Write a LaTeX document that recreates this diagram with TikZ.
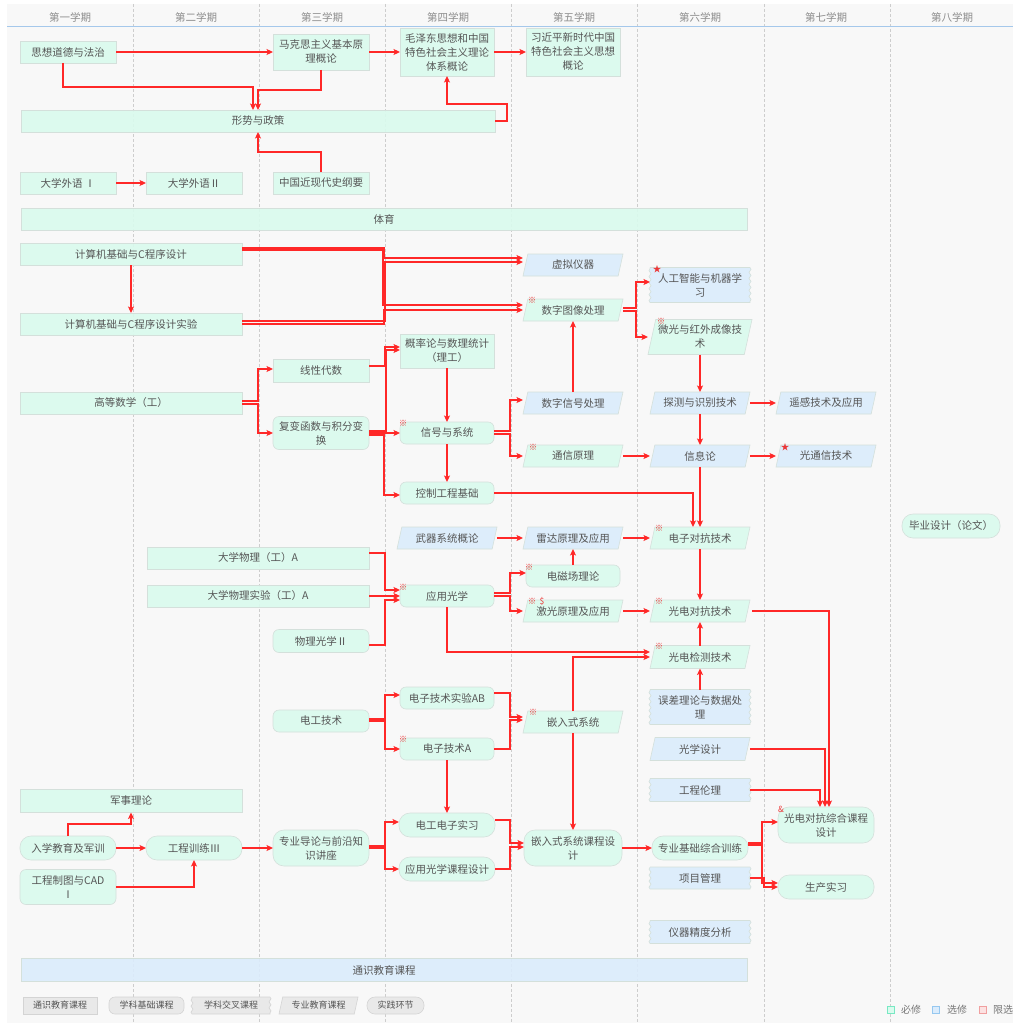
\documentclass[tikz,border=0pt]{standalone}
\usepackage{fontspec}
\setmainfont{Noto Sans CJK SC}
\usetikzlibrary{arrows.meta,calc,decorations.pathmorphing}
\definecolor{bgc}{RGB}{248,248,248}
\definecolor{gf}{RGB}{218,251,238}
\definecolor{bf}{RGB}{219,236,252}
\definecolor{bd}{RGB}{212,224,219}
\definecolor{tx}{RGB}{85,85,85}
\definecolor{hd}{RGB}{140,140,140}
\definecolor{ered}{RGB}{255,40,40}
\definecolor{grd}{RGB}{205,205,205}
\definecolor{hline}{RGB}{165,200,235}
\definecolor{lgf}{RGB}{232,232,232}
\definecolor{lgb}{RGB}{212,212,212}
\definecolor{mkc}{RGB}{235,55,55}
\pgfdeclarelayer{bgl}\pgfdeclarelayer{shp}\pgfsetlayers{bgl,shp,main}
\tikzset{
  box/.style 2 args={rectangle, draw=none, fill=none, inner sep=0pt, outer sep=0pt,
    minimum width=#1pt, minimum height=#2pt, align=center, text=tx,
    font=\fontsize{10.5}{14}\selectfont},
  lbox/.style 2 args={box={#1}{#2}, font=\fontsize{9}{11}\selectfont},
  hdr/.style={inner sep=0pt, text=hd, font=\fontsize{10.5}{12}\selectfont},
  ltx/.style={inner sep=0pt, text=tx!80, font=\fontsize{10}{12}\selectfont},
  mk/.style={inner sep=0pt, outer sep=0pt, text=mkc, font=\fontsize{8.5}{8.5}\selectfont},
  sq/.style={rectangle, inner sep=0pt, minimum size=7pt, line width=0.8pt},
  sh/.style={draw=bd, line width=0.6pt, fill opacity=0.9},
  e/.style={draw=ered, line width=1.8pt, -{Stealth[length=6.5pt,width=6pt,inset=1.5pt]}},
  wave/.style={decoration={snake, amplitude=1pt, segment length=6pt}}
}
\begin{document}
\begin{tikzpicture}[x=1pt,y=-1pt]
\useasboundingbox (0,0) rectangle (1013,1025);
\begin{pgfonlayer}{bgl}
\fill[white] (0,0) rectangle (1013,1025);
\fill[bgc] (7,4) rectangle (1013,1023);
\foreach \gx in {133,259,385,511,637,764,890}
  \draw[grd, line width=0.7pt, dash pattern=on 3pt off 2pt] (\gx,4) -- (\gx,1023);
\draw[hline, line width=1pt] (7,27) -- (1013,27);
\end{pgfonlayer}

% headers
\node[hdr] (h1) at (70,17) {第一学期};
\node[hdr] (h2) at (196,17) {第二学期};
\node[hdr] (h3) at (322,17) {第三学期};
\node[hdr] (h4) at (448,17) {第四学期};
\node[hdr] (h5) at (574,17) {第五学期};
\node[hdr] (h6) at (700,17) {第六学期};
\node[hdr] (h7) at (826,17) {第七学期};
\node[hdr] (h8) at (952,17) {第八学期};

% top
\node[box={96}{22}] (sxdd) at (68,52) {思想道德与法治};
\node[box={96}{36}] (mks) at (321,52) {马克思主义基本原\\理概论};
\node[box={94}{48}] (mzd) at (447,52) {毛泽东思想和中国\\特色社会主义理论\\体系概论};
\node[box={94}{48}] (xjp) at (573,52) {习近平新时代中国\\特色社会主义思想\\概论};
\node[box={474}{22}] (xszc) at (258,121) {形势与政策};
\node[box={96}{22}] (wy1) at (68,183) {大学外语 Ⅰ};
\node[box={96}{22}] (wy2) at (194,183) {大学外语Ⅱ};
\node[box={96}{22}] (zgjxd) at (321,183) {中国近现代史纲要};
\node[box={726}{22}] (ty) at (384,219) {体育};

% middle
\node[box={222}{22}] (jsj) at (131,254) {计算机基础与C程序设计};
\node[box={222}{22}] (jsjsy) at (131,324) {计算机基础与C程序设计实验};
\node[box={222}{22}] (gdsx) at (131,403) {高等数学（工）};
\node[box={96}{23}] (xxds) at (321,371) {线性代数};
\node[box={96}{33}] (fb) at (321,433) {复变函数与积分变\\换};
\node[box={94}{34}] (gll) at (447,351) {概率论与数理统计\\（理工）};
\node[box={94}{22}] (xhxt) at (447,433) {信号与系统};
\node[box={94}{22}] (kzgc) at (447,493) {控制工程基础};
\node[box={100}{22}] (xnyq) at (573,265) {虚拟仪器};
\node[box={100}{22}] (szdx) at (573,310) {数字图像处理};
\node[box={100}{35}] (rgzn) at (700,285) {人工智能与机器学\\习};
\node[box={104}{35}] (wg) at (700,337) {微光与红外成像技\\术};
\node[box={100}{22}] (szxh) at (573,403) {数字信号处理};
\node[box={100}{22}] (txyl) at (573,456) {通信原理};
\node[box={100}{22}] (tc) at (700,403) {探测与识别技术};
\node[box={100}{22}] (xxl) at (700,456) {信息论};
\node[box={100}{22}] (yg) at (826,403) {遥感技术及应用};
\node[box={100}{22}] (gtx) at (826,456) {光通信技术};

% lower
\node[box={100}{22}] (wqxt) at (447,538) {武器系统概论};
\node[box={100}{22}] (ldyl) at (573,538) {雷达原理及应用};
\node[box={94}{22}] (dcc) at (573,576) {电磁场理论};
\node[box={100}{22}] (jgyl) at (573,611) {激光原理及应用};
\node[box={100}{22}] (dzdk) at (700,538) {电子对抗技术};
\node[box={100}{22}] (gddk) at (700,611) {光电对抗技术};
\node[box={100}{23}] (gdjc) at (700,657) {光电检测技术};
\node[box={100}{35}] (wclr) at (700,707) {误差理论与数据处\\理};
\node[box={100}{23}] (gxsj) at (700,749) {光学设计};
\node[box={98}{24}] (bysj) at (951,526) {毕业设计（论文）};
\node[box={222}{22}] (dxwl) at (258,558) {大学物理（工）A};
\node[box={222}{22}] (dxwlsy) at (258,596) {大学物理实验（工）A};
\node[box={96}{23}] (wlgx) at (321,641) {物理光学Ⅱ};
\node[box={94}{22}] (yygx) at (447,596) {应用光学};
\node[box={96}{22}] (dgjs) at (321,721) {电工技术};
\node[box={94}{22}] (dzsy) at (447,698) {电子技术实验AB};
\node[box={94}{22}] (dzjs) at (447,749) {电子技术A};
\node[box={100}{22}] (qrs) at (573,722) {嵌入式系统};

% bottom
\node[box={222}{23}] (jslr) at (131,801) {军事理论};
\node[box={96}{24}] (rxjy) at (68,848) {入学教育及军训};
\node[box={96}{35}] (gczt) at (68,887) {工程制图与CAD\\Ⅰ};
\node[box={96}{24}] (gcxl) at (194,848) {工程训练Ⅲ};
\node[box={96}{36}] (zydl) at (321,848) {专业导论与前沿知\\识讲座};
\node[box={96}{24}] (dgdzsx) at (447,825) {电工电子实习};
\node[box={96}{24}] (yygxkc) at (447,869) {应用光学课程设计};
\node[box={98}{36}] (qrskc) at (573,848) {嵌入式系统课程设\\计};
\node[box={96}{24}] (zyjc) at (700,848) {专业基础综合训练};
\node[box={100}{22}] (xmgl) at (700,878) {项目管理};
\node[box={100}{23}] (yqjd) at (700,932) {仪器精度分析};
\node[box={100}{23}] (gcll) at (700,790) {工程伦理};
\node[box={96}{36}] (gddkzh) at (826,825) {光电对抗综合课程\\设计};
\node[box={96}{24}] (scsx) at (826,887) {生产实习};
\node[box={726}{23}] (tsjy) at (384,970) {通识教育课程};

% legend
\node[lbox={74}{17}] (lg1) at (60,1005.5) {通识教育课程};
\node[lbox={75}{17}] (lg2) at (146.5,1005.5) {学科基础课程};
\node[lbox={78}{17}] (lg3) at (231,1005.5) {学科交叉课程};
\node[lbox={79}{17}] (lg4) at (318.5,1005.5) {专业教育课程};
\node[lbox={57}{17}] (lg5) at (395.5,1005.5) {实践环节};
\node[sq, draw={rgb,255:red,120;green,232;blue,195}, fill=gf] (k1) at (890.5,1009.5) {};
\node[ltx] (k1t) at (911,1009.5) {必修};
\node[sq, draw={rgb,255:red,150;green,200;blue,240}, fill=bf] (k2) at (936,1009.5) {};
\node[ltx] (k2t) at (957,1009.5) {选修};
\node[sq, draw={rgb,255:red,240;green,160;blue,160}, fill={rgb,255:red,252;green,226;blue,226}] (k3) at (982.5,1009.5) {};
\node[ltx, anchor=west] (k3t) at (993,1009.5) {限选};

% shapes
\begin{pgfonlayer}{shp}
\foreach \q in {sxdd,mks,mzd,xjp,xszc,wy1,wy2,zgjxd,ty,jsj,jsjsy,gdsx,xxds,gll,dxwl,dxwlsy,jslr}
  {\path[sh, fill=gf] (\q.north west) rectangle (\q.south east);}
\path[sh, fill=bf] (tsjy.north west) rectangle (tsjy.south east);
\foreach \q in {fb,xhxt,kzgc,dcc,wlgx,yygx,dgjs,dzsy,dzjs,gczt}
  {\path[sh, fill=gf, rounded corners=6pt] (\q.north west) rectangle (\q.south east);}
\foreach \q in {bysj,rxjy,gcxl,dgdzsx,yygxkc,zyjc,scsx,zydl,qrskc,gddkzh}
  {\path[sh, fill=gf, rounded corners=11pt] (\q.north west) rectangle (\q.south east);}
\foreach \q in {szdx,wg,txyl,jgyl,dzdk,gddk,gdjc,qrs}
  {\path[sh, fill=gf] let \p1=(\q.north west), \p2=(\q.south east), \n1={0.22*(\y1-\y2)} in
     (\x1+\n1,\y1) -- (\x2,\y1) -- (\x2-\n1,\y2) -- (\x1,\y2) -- cycle;}
\foreach \q in {xnyq,szxh,tc,xxl,yg,gtx,wqxt,ldyl,gxsj}
  {\path[sh, fill=bf] let \p1=(\q.north west), \p2=(\q.south east), \n1={0.22*(\y1-\y2)} in
     (\x1+\n1,\y1) -- (\x2,\y1) -- (\x2-\n1,\y2) -- (\x1,\y2) -- cycle;}
\foreach \q in {rgzn,wclr,xmgl,yqjd,gcll}
  {\path[sh, fill=bf, wave] (\q.north west) -- (\q.north east) decorate{-- (\q.south east)}
     -- (\q.south west) decorate{-- (\q.north west)} -- cycle;}
\path[sh, draw=lgb, fill=lgf] (lg1.north west) rectangle (lg1.south east);
\path[sh, draw=lgb, fill=lgf, rounded corners=6pt] (lg2.north west) rectangle (lg2.south east);
\path[sh, draw=lgb, fill=lgf, wave] (lg3.north west) -- (lg3.north east) decorate{-- (lg3.south east)}
     -- (lg3.south west) decorate{-- (lg3.north west)} -- cycle;
\path[sh, draw=lgb, fill=lgf] let \p1=(lg4.north west), \p2=(lg4.south east), \n1={0.22*(\y1-\y2)} in
     (\x1+\n1,\y1) -- (\x2,\y1) -- (\x2-\n1,\y2) -- (\x1,\y2) -- cycle;
\path[sh, draw=lgb, fill=lgf, rounded corners=8pt] (lg5.north west) rectangle (lg5.south east);
\end{pgfonlayer}

% markers
\node[mk] (m1) at ([shift={(9,1)}]szdx.north west) {※};
\node[mk] (m2) at ([shift={(7,2)}]rgzn.north west) {★};
\node[mk] (m3) at ([shift={(13,2)}]wg.north west) {※};
\node[mk] (m4) at ([shift={(10,2)}]txyl.north west) {※};
\node[mk] (m5) at ([shift={(3,1)}]xhxt.north west) {※};
\node[mk] (m6) at ([shift={(3,2)}]yygx.north west) {※};
\node[mk] (m7) at ([shift={(3,2)}]dcc.north west) {※};
\node[mk] (m8) at ([shift={(9,1)}]jgyl.north west) {※};
\node[mk] (m9) at ([shift={(19,1)}]jgyl.north west) {\$};
\node[mk] (m10) at ([shift={(9,1)}]dzdk.north west) {※};
\node[mk] (m11) at ([shift={(9,1)}]gddk.north west) {※};
\node[mk] (m12) at ([shift={(9,1)}]gdjc.north west) {※};
\node[mk] (m13) at ([shift={(3,1)}]dzjs.north west) {※};
\node[mk] (m14) at ([shift={(10,1)}]qrs.north west) {※};
\node[mk] (m15) at ([shift={(9,2)}]gtx.north west) {★};
\node[mk] (m16) at ([shift={(3,2)}]gddkzh.north west) {\&};

% edges top
\draw[e] (sxdd.east) -- (sxdd.east -| mks.west);
\draw[e] (mks.east) -- (mks.east -| mzd.west);
\draw[e] (mzd.east) -- (xjp.west);
\draw[e] ([xshift=-5pt]sxdd.south) -- ++(0,24) -| ([xshift=-5pt]xszc.north);
\draw[e] (mks.south) -- ++(0,20) -| (xszc.north);
\draw[e] (xszc.east) -- ++(12,0) -- ++(0,-17) -| (mzd.south);
\draw[e] (zgjxd.north) -- ++(0,-20) -| (xszc.south);
\draw[e] (wy1.east) -- (wy2.west);
% edges middle
\draw[e] (jsj.south) -- (jsjsy.north);
\draw[e] ([yshift=6pt]jsj.east) -- ++(142,0) |- ([yshift=7pt]xnyq.west);
\draw[e] ([yshift=4pt]jsj.east) -- ++(141,0) |- ([yshift=5pt]szdx.west);
\draw[e] ([yshift=3pt]jsjsy.east) -- ++(143,0) |- ([yshift=3pt]xnyq.west);
\draw[e] (jsjsy.east) -- ++(142,0) |- (szdx.west);
\draw[e] ([yshift=2pt]gdsx.east) -- ++(16,0) |- ([yshift=2pt]xxds.west);
\draw[e] ([yshift=-1pt]gdsx.east) -- ++(16,0) |- (fb.west);
\draw[e] ([yshift=5pt]xxds.east) -- ++(16,0) |- ([yshift=4pt]gll.west);
\draw[e] ([yshift=2pt]fb.east) -- ++(17,0) |- ([yshift=1pt]gll.west);
\draw[e] (fb.east) -- (xhxt.west);
\draw[e] ([yshift=-2pt]fb.east) -- ++(15,0) |- ([yshift=-2pt]kzgc.west);
\draw[e] (gll.south) -- (xhxt.north);
\draw[e] (xhxt.south) -- (kzgc.north);
\draw[e] ([yshift=2pt]xhxt.east) -- ++(16,0) |- ([yshift=3pt]szxh.west);
\draw[e] ([yshift=-1pt]xhxt.east) -- ++(16,0) |- (txyl.west);
\draw[e] (kzgc.east) -| ([xshift=-7pt]dzdk.north);
\draw[e] (xxl.south) -- (dzdk.north);
\draw[e] ([yshift=2pt]szdx.east) -- ++(13,0) |- ([yshift=3pt]rgzn.west);
\draw[e] ([yshift=-1pt]szdx.east) -- ++(13,0) |- (wg.west);
\draw[e] (szxh.north) -- (szdx.south);
\draw[e] (wg.south) -- (tc.north);
\draw[e] (tc.east) -- (yg.west);
\draw[e] (tc.south) -- (xxl.north);
\draw[e] (txyl.east) -- (xxl.west);
\draw[e] (xxl.east) -- (gtx.west);
% edges lower
\draw[e] (wqxt.east) -- (ldyl.west);
\draw[e] (ldyl.east) -- (dzdk.west);
\draw[e] (dcc.north) -- (ldyl.south);
\draw[e] (dzdk.south) -- (gddk.north);
\draw[e] (jgyl.east) -- (gddk.west);
\draw[e] (gdjc.north) -- (gddk.south);
\draw[e] (wclr.north) -- (gdjc.south);
\draw[e] ([yshift=5pt]dxwl.east) -- ++(16,0) |- ([yshift=6pt]yygx.west);
\draw[e] (dxwlsy.east) -- (yygx.west);
\draw[e] ([yshift=-4pt]wlgx.east) -- ++(16,0) |- ([yshift=-4pt]yygx.west);
\draw[e] ([yshift=3pt]yygx.east) -- ++(16,0) |- ([yshift=3pt]dcc.west);
\draw[e] (yygx.east) -- ++(16,0) |- (jgyl.west);
\draw[e] (yygx.south) |- ([yshift=5pt]gdjc.west);
\draw[e] (qrs.north) |- (gdjc.west);
\draw[e] ([yshift=2pt]dgjs.east) -- ++(16,0) |- ([yshift=3pt]dzsy.west);
\draw[e] (dgjs.east) -- ++(16,0) |- (dzjs.west);
\draw[e] ([yshift=5pt]dzsy.east) -- ++(16,0) |- ([yshift=5pt]qrs.west);
\draw[e] (dzjs.east) -- ++(16,0) |- ([yshift=2pt]qrs.west);
\draw[e] (dzjs.south) -- (dgdzsx.north);
\draw[e] (qrs.south) -- (qrskc.north);
% edges bottom
\draw[e] (rxjy.north) -- ++(0,-12) -| (jslr.south);
\draw[e] (rxjy.east) -- (gcxl.west);
\draw[e] (gczt.east) -| (gcxl.south);
\draw[e] (gcxl.east) -- (zydl.west);
\draw[e] ([yshift=2pt]zydl.east) -- ++(16,0) |- ([yshift=3pt]dgdzsx.west);
\draw[e] (zydl.east) -- ++(16,0) |- (yygxkc.west);
\draw[e] ([yshift=5pt]dgdzsx.east) -- ++(15,0) |- ([yshift=5pt]qrskc.west);
\draw[e] (yygxkc.east) -- ++(15,0) |- ([yshift=1pt]qrskc.west);
\draw[e] (qrskc.east) -- (zyjc.west);
\draw[e] ([yshift=5pt]zyjc.east) -- ++(14,0) |- ([yshift=3pt]gddkzh.west);
\draw[e] ([yshift=3pt]zyjc.east) -- ++(14,0) |- ([yshift=4pt]scsx.west);
\draw[e] (xmgl.east) -- ++(14,0) |- (scsx.west);
\draw[e] (gcll.east) -| ([xshift=-6pt]gddkzh.north);
\draw[e] (gxsj.east) -| ([xshift=-1pt]gddkzh.north);
\draw[e] ([xshift=2pt]gddk.east) -| ([xshift=3pt]gddkzh.north);
\end{tikzpicture}
\end{document}
